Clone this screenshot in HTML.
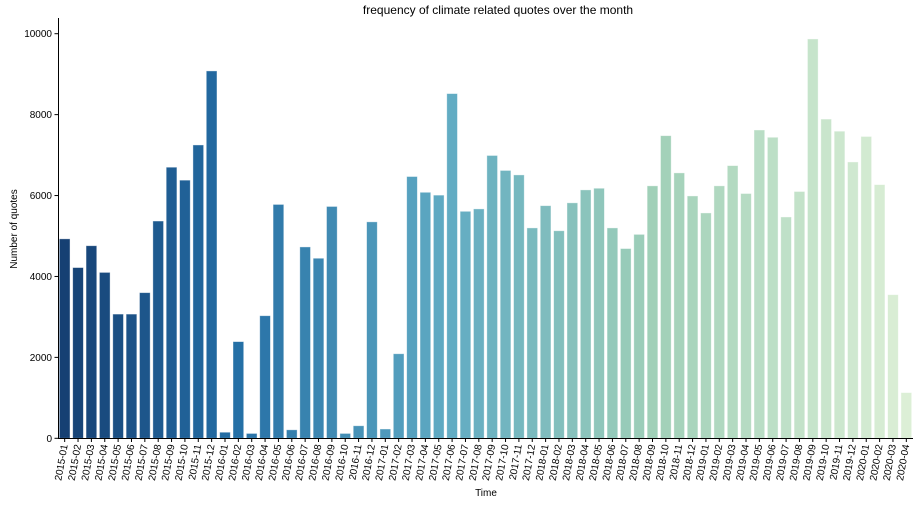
<!DOCTYPE html>
<html><head><meta charset="utf-8"><style>
body{margin:0;background:#fff;}
svg{display:block;font-family:"Liberation Sans","DejaVu Sans",sans-serif;}
</style></head><body>
<svg id="chart" width="919" height="508" viewBox="0 0 919 508" xmlns="http://www.w3.org/2000/svg">
<text x="498" y="14" text-anchor="middle" font-size="12" fill="#000">frequency of climate related quotes over the month</text>
<text transform="translate(17,229) rotate(-90)" text-anchor="middle" font-size="10" fill="#000">Number of quotes</text>
<text x="486" y="496" text-anchor="middle" font-size="10" fill="#000">Time</text>
<g id="bars"></g><g id="yt"></g><g id="xt"></g>
<line x1="58.5" y1="18" x2="58.5" y2="438.5" stroke="#000" stroke-width="1"/>
<line x1="58" y1="438.5" x2="913" y2="438.5" stroke="#000" stroke-width="1"/>
</svg>
<script>
const categories=["2015-01","2015-02","2015-03","2015-04","2015-05","2015-06","2015-07","2015-08","2015-09","2015-10","2015-11","2015-12","2016-01","2016-02","2016-03","2016-04","2016-05","2016-06","2016-07","2016-08","2016-09","2016-10","2016-11","2016-12","2017-01","2017-02","2017-03","2017-04","2017-05","2017-06","2017-07","2017-08","2017-09","2017-10","2017-11","2017-12","2018-01","2018-02","2018-03","2018-04","2018-05","2018-06","2018-07","2018-08","2018-09","2018-10","2018-11","2018-12","2019-01","2019-02","2019-03","2019-04","2019-05","2019-06","2019-07","2019-08","2019-09","2019-10","2019-11","2019-12","2020-01","2020-02","2020-03","2020-04"];
const quotes=[4930,4220,4760,4100,3070,3070,3600,5370,6700,6380,7250,9080,150,2390,120,3030,5780,210,4730,4450,5730,120,310,5350,230,2090,6470,6080,6010,8520,5610,5670,6990,6620,6510,5200,5750,5130,5820,6140,6180,5200,4690,5040,6240,7480,6560,5990,5570,6240,6740,6050,7620,7440,5470,6100,9870,7890,7590,6830,7460,6270,3550,1130];
const yTicks=[0,2000,4000,6000,8000,10000];
const NS="http://www.w3.org/2000/svg";
const X0=58,X1=913,Y0=438.3,Y10k=33.7;
const step=(X1-X0)/categories.length;
const xs=i=>X0+step*(i+0.5);
const ys=v=>Y0-(Y0-Y10k)*v/10000;
const stops=[[0,[22,64,115]],[0.2,[36,110,165]],[0.45,[95,170,195]],[0.7,[160,208,184]],[1,[220,239,214]]];
function col(t){for(let k=1;k<stops.length;k++){if(t<=stops[k][0]){const a=stops[k-1],b=stops[k],f=(t-a[0])/(b[0]-a[0]);return "rgb("+a[1].map((c,j)=>Math.round(c+(b[1][j]-c)*f)).join(",")+")";}}return "rgb(220,239,214)";}
const gb=document.getElementById('bars'),gy=document.getElementById('yt'),gx=document.getElementById('xt');
quotes.forEach((v,i)=>{
 const r=document.createElementNS(NS,'rect');
 const w=step*0.8;
 r.setAttribute('x',xs(i)-w/2);r.setAttribute('y',ys(v));r.setAttribute('width',w);r.setAttribute('height',Y0-ys(v));
 r.setAttribute('fill',col(i/(quotes.length-1)));r.setAttribute('stroke','rgba(255,255,255,0.5)');r.setAttribute('stroke-width','0.8');
 
 
 gb.appendChild(r);
 const tk=document.createElementNS(NS,'line');
 tk.setAttribute('x1',xs(i));tk.setAttribute('x2',xs(i));tk.setAttribute('y1',438.5);tk.setAttribute('y2',442);tk.setAttribute('stroke','#000');
 
 
 gx.appendChild(tk);
 const t=document.createElementNS(NS,'text');
 t.setAttribute('transform','translate('+(xs(i)+3)+',445) rotate(-80)');
 t.setAttribute('text-anchor','end');t.setAttribute('font-size','10');t.setAttribute('fill','#000');
 t.textContent=categories[i];
 
 
 gx.appendChild(t);
});
yTicks.forEach(v=>{
 const tk=document.createElementNS(NS,'line');
 tk.setAttribute('x1',54.5);tk.setAttribute('x2',58.5);tk.setAttribute('y1',ys(v));tk.setAttribute('y2',ys(v));tk.setAttribute('stroke','#000');
 
 
 gy.appendChild(tk);
 const t=document.createElementNS(NS,'text');
 t.setAttribute('x',52);t.setAttribute('y',ys(v)+3.5);t.setAttribute('text-anchor','end');t.setAttribute('font-size','10');
 t.textContent=v;
 
 
 gy.appendChild(t);
});
</script>
</body></html>
